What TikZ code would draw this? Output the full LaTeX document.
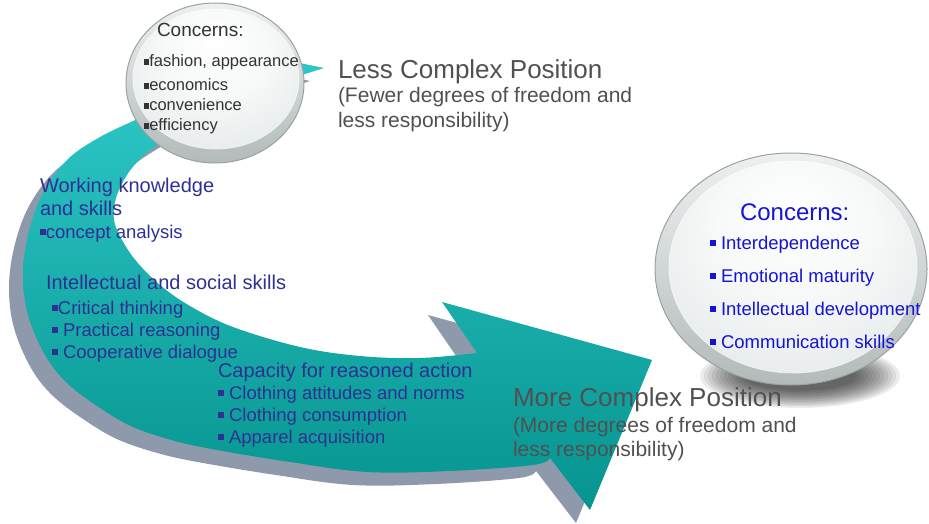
\documentclass[tikz,border=0pt]{standalone}
\usepackage{fontspec}
\setmainfont{Liberation Sans}
\usetikzlibrary{shapes.geometric}
\definecolor{tealtop}{HTML}{2CC6C6}
\definecolor{tealbot}{HTML}{06948F}
\definecolor{shadowc}{HTML}{8E9AAC}
\definecolor{navy}{HTML}{2E3192}
\definecolor{bblue}{HTML}{1414D2}
\definecolor{posgray}{HTML}{505050}
\definecolor{cgray}{HTML}{333333}
\definecolor{rimtop}{HTML}{EEF0F0}
\definecolor{rimbot}{HTML}{B2BABA}
\definecolor{rimline}{HTML}{9AA2A2}
\pgfdeclareradialshading{glassin}{\pgfpoint{0bp}{14bp}}{rgb(0bp)=(1,1,1); rgb(16bp)=(0.97,0.976,0.976); rgb(40bp)=(0.875,0.895,0.895); rgb(50bp)=(0.84,0.86,0.86)}
\newcommand\mybul{\rule[0.15em]{0.32em}{0.32em}}
\tikzset{
  arrowshape/.style={insert path={(175,96) -- plot[smooth,tension=0.6] coordinates {(140,118) (100,137) (67,160) (42,195) (28,235) (23,275) (28,315) (45,355) (67,383) (100,408) (133,427) (175,441) (217,450) (290,462) (367,472) (450,471) (533,465) (550,458)} -- (590,510) -- (652,360) -- (442,302) -- plot[smooth,tension=0.6] coordinates {(477,353) (420,358) (360,356) (300,347) (233,327) (190,306) (160,285) (137,262) (122,240) (114,220) (116,198) (127,175) (142,157) (160,143) (185,128)} -- cycle}},
  tipshape/.style={insert path={(280,59) -- (324,68) -- (280,82) -- cycle}},
  txt/.style={anchor=base west, inner sep=0pt, outer sep=0pt},
  poshead/.style={txt, text=posgray, font=\fontsize{26}{28}\selectfont},
  possub/.style={txt, text=posgray, font=\fontsize{21}{23}\selectfont},
  c1head/.style={txt, text=cgray, font=\fontsize{19}{21}\selectfont},
  c1item/.style={txt, text=cgray, font=\fontsize{16.5}{18}\selectfont},
  lhead/.style={txt, text=navy, font=\fontsize{20}{22}\selectfont},
  litem/.style={txt, text=navy, font=\fontsize{18.5}{20}\selectfont},
  rhead/.style={txt, text=bblue, font=\fontsize{24}{26}\selectfont},
  ritem/.style={txt, text=bblue, font=\fontsize{18.5}{20}\selectfont},
  rim/.style={top color=rimtop, bottom color=rimbot, draw=rimline, line width=1pt},
  glass/.style={shading=glassin, draw=white, draw opacity=0.6, line width=0.8pt}
}
\begin{document}
\begin{tikzpicture}[x=1pt,y=-1pt]
\useasboundingbox (0,0) rectangle (929,524);
% shadow of the arrows
\begin{scope}[shift={(-14,13)}]
  \fill[shadowc, arrowshape];
  \fill[shadowc, tipshape];
\end{scope}
% arrows
\shade[top color=tealtop, bottom color=tealbot, arrowshape];
\fill[tealtop, tipshape];
% right sphere drop shadow
\foreach \k in {0,...,11}
  \fill[black, opacity=0.075] (800,376) ellipse [x radius={100pt-4pt*\k}, y radius={32pt-1.6pt*\k}];
% spheres
\shadedraw[rim] (215,83) ellipse [x radius=89pt, y radius=80pt];
\shadedraw[glass] (216,79) ellipse [x radius=83pt, y radius=70pt];
\shadedraw[rim] (791,269) ellipse [x radius=136pt, y radius=116pt];
\shadedraw[glass] (793,267) ellipse [x radius=124pt, y radius=106pt];
% top-left sphere text
\node[c1head] (c1t) at (157,37) {Concerns:};
\node[c1item] (c1a) at (144,67) {\mybul fashion, appearance};
\node[c1item] (c1b) at (144,91) {\mybul economics};
\node[c1item] (c1c) at (144,111) {\mybul convenience};
\node[c1item] (c1d) at (144,131) {\mybul efficiency};
% positions
\node[poshead] (lp) at (338,79) {Less Complex Position};
\node[possub] (lp1) at (338,103) {(Fewer degrees of freedom and};
\node[possub] (lp2) at (338,128) {less responsibility)};
\node[poshead] (mp) at (513,406) {More Complex Position};
\node[possub] (mp1) at (513,432) {(More degrees of freedom and};
\node[possub] (mp2) at (513,456) {less responsibility)};
% left texts
\node[lhead] (w1) at (40,192) {Working knowledge};
\node[lhead] (w2) at (40,215) {and skills};
\node[litem] (w3) at (40,238) {\mybul concept analysis};
\node[lhead] (i1) at (46,289) {Intellectual and social skills};
\node[litem] (i2) at (52,314) {\mybul Critical thinking};
\node[litem] (i3) at (52,336) {\mybul{} Practical reasoning};
\node[litem] (i4) at (52,358) {\mybul{} Cooperative dialogue};
\node[lhead] (k1) at (218,377) {Capacity for reasoned action};
\node[litem] (k2) at (218,399) {\mybul{} Clothing attitudes and norms};
\node[litem] (k3) at (218,421) {\mybul{} Clothing consumption};
\node[litem] (k4) at (218,443) {\mybul{} Apparel acquisition};
% right sphere text
\node[rhead] (c2t) at (740,220) {Concerns:};
\node[ritem] (c2a) at (710,249) {\mybul{} Interdependence};
\node[ritem] (c2b) at (710,282) {\mybul{} Emotional maturity};
\node[ritem] (c2c) at (710,315) {\mybul{} Intellectual development};
\node[ritem] (c2d) at (710,348) {\mybul{} Communication skills};
\end{tikzpicture}
\end{document}
